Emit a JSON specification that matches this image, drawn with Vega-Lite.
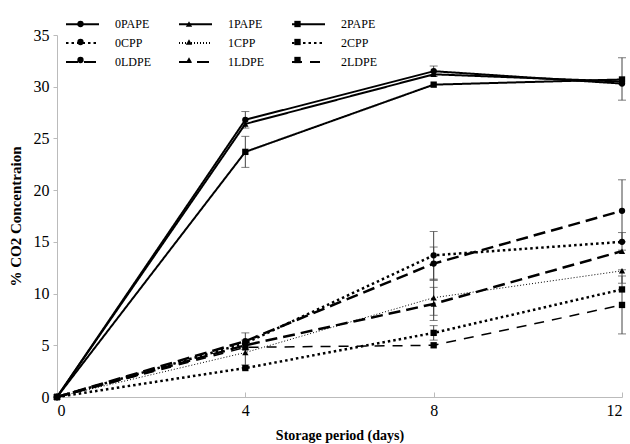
{
  "$schema": "https://vega.github.io/schema/vega-lite/v6.json",
  "width": 565,
  "height": 362,
  "autosize": {"type": "none"},
  "padding": {"left": 57, "top": 35, "right": 8, "bottom": 47},
  "background": "white",
  "config": {
    "view": {"stroke": null},
    "font": "Liberation Serif",
    "axis": {
      "grid": false,
      "domainColor": "#bbbbbb",
      "tickColor": "#bbbbbb",
      "labelFont": "Liberation Serif",
      "labelFontSize": 16,
      "labelColor": "black",
      "titleFont": "Liberation Serif",
      "titleFontWeight": "bold",
      "titleColor": "black"
    }
  },
  "datasets": {
    "series": [
      {"series": "0PAPE", "ord": 1, "day": 0, "co2": 0}, {"series": "0PAPE", "ord": 1, "day": 4, "co2": 26.8}, {"series": "0PAPE", "ord": 1, "day": 8, "co2": 31.5}, {"series": "0PAPE", "ord": 1, "day": 12, "co2": 30.3},
      {"series": "1PAPE", "ord": 2, "day": 0, "co2": 0}, {"series": "1PAPE", "ord": 2, "day": 4, "co2": 26.4}, {"series": "1PAPE", "ord": 2, "day": 8, "co2": 31.2}, {"series": "1PAPE", "ord": 2, "day": 12, "co2": 30.5},
      {"series": "2PAPE", "ord": 3, "day": 0, "co2": 0}, {"series": "2PAPE", "ord": 3, "day": 4, "co2": 23.7}, {"series": "2PAPE", "ord": 3, "day": 8, "co2": 30.2}, {"series": "2PAPE", "ord": 3, "day": 12, "co2": 30.7},
      {"series": "0CPP", "ord": 4, "day": 0, "co2": 0}, {"series": "0CPP", "ord": 4, "day": 4, "co2": 5.2}, {"series": "0CPP", "ord": 4, "day": 8, "co2": 13.7}, {"series": "0CPP", "ord": 4, "day": 12, "co2": 15.0},
      {"series": "1CPP", "ord": 5, "day": 0, "co2": 0}, {"series": "1CPP", "ord": 5, "day": 4, "co2": 4.3}, {"series": "1CPP", "ord": 5, "day": 8, "co2": 9.6}, {"series": "1CPP", "ord": 5, "day": 12, "co2": 12.2},
      {"series": "2CPP", "ord": 6, "day": 0, "co2": 0}, {"series": "2CPP", "ord": 6, "day": 4, "co2": 2.8}, {"series": "2CPP", "ord": 6, "day": 8, "co2": 6.2}, {"series": "2CPP", "ord": 6, "day": 12, "co2": 10.4},
      {"series": "0LDPE", "ord": 7, "day": 0, "co2": 0}, {"series": "0LDPE", "ord": 7, "day": 4, "co2": 5.4}, {"series": "0LDPE", "ord": 7, "day": 8, "co2": 12.9}, {"series": "0LDPE", "ord": 7, "day": 12, "co2": 18.0},
      {"series": "1LDPE", "ord": 8, "day": 0, "co2": 0}, {"series": "1LDPE", "ord": 8, "day": 4, "co2": 5.0}, {"series": "1LDPE", "ord": 8, "day": 8, "co2": 9.0}, {"series": "1LDPE", "ord": 8, "day": 12, "co2": 14.1},
      {"series": "2LDPE", "ord": 9, "day": 0, "co2": 0}, {"series": "2LDPE", "ord": 9, "day": 4, "co2": 4.8}, {"series": "2LDPE", "ord": 9, "day": 8, "co2": 5.0}, {"series": "2LDPE", "ord": 9, "day": 12, "co2": 8.9}
    ],
    "errors": [
      {"day": 4, "lo": 26.0, "hi": 27.6}, {"day": 4, "lo": 22.2, "hi": 25.2},
      {"day": 4, "lo": 4.6, "hi": 6.2}, {"day": 4, "lo": 3.1, "hi": 5.5},
      {"day": 8, "lo": 31.0, "hi": 32.0}, {"day": 8, "lo": 11.4, "hi": 16.0},
      {"day": 8, "lo": 11.3, "hi": 14.5}, {"day": 8, "lo": 7.9, "hi": 11.3},
      {"day": 8, "lo": 7.4, "hi": 10.6}, {"day": 8, "lo": 5.5, "hi": 6.9},
      {"day": 12, "lo": 28.7, "hi": 32.8}, {"day": 12, "lo": 15.0, "hi": 21.0},
      {"day": 12, "lo": 14.2, "hi": 15.9}, {"day": 12, "lo": 11.0, "hi": 12.3},
      {"day": 12, "lo": 6.1, "hi": 11.7}
    ]
  },
  "layer": [
    {
      "data": {"name": "errors"},
      "mark": {"type": "errorbar", "ticks": {"size": 8}, "color": "#444444", "thickness": 1},
      "encoding": {
        "x": {"field": "day", "type": "quantitative", "scale": {"domain": [0, 12]}, "axis": {"values": [0, 4, 8, 12], "title": "Storage period (days)", "titleFontSize": 14, "tickSize": -5, "labelPadding": 10, "titlePadding": 10}},
        "y": {"field": "lo", "type": "quantitative", "scale": {"domain": [0, 35]}, "axis": {"values": [0, 5, 10, 15, 20, 25, 30, 35], "title": "% CO2 Concentraion", "titleFontSize": 15, "tickSize": 4, "labelPadding": 4, "titlePadding": 10}},
        "y2": {"field": "hi"}
      }
    },
    {
      "data": {"name": "series"},
      "transform": [{"filter": {"field": "series", "oneOf": ["0PAPE", "1PAPE", "2PAPE"]}}],
      "mark": {"type": "line", "color": "black", "strokeWidth": 2},
      "encoding": {
        "x": {"field": "day", "type": "quantitative"},
        "y": {"field": "co2", "type": "quantitative"},
        "strokeDash": {
          "field": "series", "type": "nominal",
          "scale": {
            "domain": ["0PAPE", "1PAPE", "2PAPE", "0CPP", "1CPP", "2CPP", "0LDPE", "1LDPE", "2LDPE"],
            "range": [[1, 0], [1, 0], [1, 0], [2.5, 3], [1, 2], [2.5, 3], [12, 6], [12, 6], [10, 8]]
          },
          "legend": {
            "orient": "none", "legendX": 8, "legendY": -17.5, "columns": 3, "direction": "horizontal", "title": null, "padding": 0,
            "symbolType": "M-3,0H3", "symbolSize": 121, "symbolStrokeWidth": 2, "symbolStrokeColor": "black", "symbolFillColor": "transparent",
            "symbolOffset": 11,
            "labelFont": "Liberation Serif", "labelFontSize": 12, "labelColor": "black", "labelOffset": 26,
            "columnPadding": 24, "rowPadding": 6
          }
        }
      }
    },
    {
      "data": {"name": "series"},
      "transform": [{"filter": {"field": "series", "oneOf": ["0CPP", "2CPP", "0LDPE", "1LDPE"]}}],
      "mark": {"type": "line", "color": "black", "strokeWidth": 2.5},
      "encoding": {
        "x": {"field": "day", "type": "quantitative"},
        "y": {"field": "co2", "type": "quantitative"},
        "strokeDash": {"field": "series", "type": "nominal"}
      }
    },
    {
      "data": {"name": "series"},
      "transform": [{"filter": {"field": "series", "oneOf": ["1CPP"]}}],
      "mark": {"type": "line", "color": "black", "strokeWidth": 1},
      "encoding": {
        "x": {"field": "day", "type": "quantitative"},
        "y": {"field": "co2", "type": "quantitative"},
        "strokeDash": {"field": "series", "type": "nominal"}
      }
    },
    {
      "data": {"name": "series"},
      "transform": [{"filter": {"field": "series", "oneOf": ["2LDPE"]}}],
      "mark": {"type": "line", "color": "black", "strokeWidth": 1.5},
      "encoding": {
        "x": {"field": "day", "type": "quantitative"},
        "y": {"field": "co2", "type": "quantitative"},
        "strokeDash": {"field": "series", "type": "nominal"}
      }
    },
    {
      "data": {"name": "series"},
      "mark": {"type": "point", "filled": true, "color": "black", "opacity": 1, "size": 40},
      "encoding": {
        "x": {"field": "day", "type": "quantitative"},
        "y": {"field": "co2", "type": "quantitative"},
        "shape": {
          "field": "series", "type": "nominal",
          "sort": {"field": "ord", "op": "min"},
          "scale": {
            "range": ["circle", "triangle-up", "square", "circle", "triangle-up", "square", "circle", "triangle-up", "square"]
          },
          "legend": {
            "orient": "top-left", "offset": -17.5, "columns": 3, "direction": "horizontal", "title": null, "padding": 0,
            "symbolSize": 40, "symbolFillColor": "black", "symbolStrokeColor": "black", "symbolStrokeWidth": 0,
            "symbolOffset": 34.5, "labelExpr": "''",
            "labelFont": "Liberation Serif", "labelFontSize": 12, "labelOffset": 0,
            "columnPadding": 61.5, "rowPadding": 6
          }
        }
      }
    }
  ]
}
